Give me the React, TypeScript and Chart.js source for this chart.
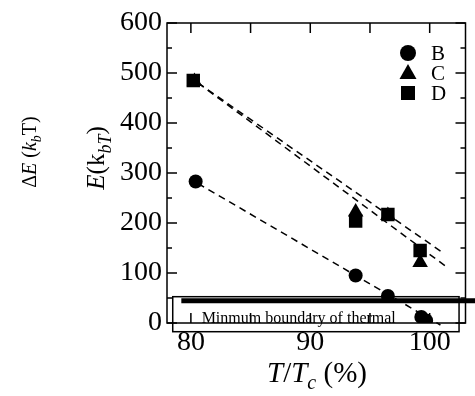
import React, { useEffect, useRef } from 'react';
import { Chart, registerables } from 'chart.js';

Chart.register(...registerables);

// ---------- data ----------
const seriesNames = ['B', 'C', 'D'];
const xB = [80.4, 93.8, 96.5, 99.3, 99.7];
const yB = [283, 95, 54, 12, 5];
const xC = [80.3, 93.8, 96.5, 99.2];
const yC = [483, 222, 215, 121];
const xD = [80.2, 93.8, 96.5, 99.2];
const yD = [485, 204, 217, 145];

const fitBX = [80.6, 100.9];
const fitBY = [279, -4];
const fitCX = [80.6, 101.6];
const fitCY = [480, 109];
const fitDX = [80.6, 101.2];
const fitDY = [480, 139];

const thresholdX = [79.2, 104];
const thresholdY = [44.5, 44.5];
const boxX = [78.48, 102.46];
const boxY = [-17.4, 52.6];
const boxLabel = 'Minmum boundary of thermal';
const boxLabelPos = [80.9, 0];

const xTickLabels = [80, 90, 100];
const xTickMarks = [80, 85, 90, 95, 100];
const yTickLabels = [0, 100, 200, 300, 400, 500, 600];
const yMinorTicks = [50, 150, 250, 350, 450, 550];

const FAM = "'Liberation Serif','Times New Roman',serif";

const toPts = (xs: number[], ys: number[]) => xs.map((x, i) => ({ x, y: ys[i] }));

type Run = { t: string; italic?: boolean; sub?: boolean };

function drawRuns(ctx: CanvasRenderingContext2D, runs: Run[], size: number, cx: number, cy: number, rotate: boolean) {
  const fontFor = (r: Run) => `${r.italic ? 'italic ' : ''}${r.sub ? Math.round(size * 0.7) : size}px ${FAM}`;
  const widths = runs.map((r) => {
    ctx.font = fontFor(r);
    return ctx.measureText(r.t).width;
  });
  const total = widths.reduce((a, b) => a + b, 0);
  ctx.save();
  ctx.translate(cx, cy);
  if (rotate) ctx.rotate(-Math.PI / 2);
  ctx.fillStyle = '#000';
  ctx.textBaseline = 'alphabetic';
  ctx.textAlign = 'left';
  let x = -total / 2;
  const base = size * 0.33;
  runs.forEach((r, i) => {
    ctx.font = fontFor(r);
    ctx.fillText(r.t, x, r.sub ? base + size * 0.25 : base);
    x += widths[i];
  });
  ctx.restore();
}

function drawMarker(ctx: CanvasRenderingContext2D, kind: string, x: number, y: number) {
  ctx.fillStyle = '#000';
  ctx.beginPath();
  if (kind === 'circle') {
    ctx.arc(x, y, 8, 0, Math.PI * 2);
  } else if (kind === 'triangle') {
    ctx.moveTo(x, y - 9);
    ctx.lineTo(x + 8.5, y + 6);
    ctx.lineTo(x - 8.5, y + 6);
    ctx.closePath();
  } else {
    ctx.rect(x - 7, y - 7, 14, 14);
  }
  ctx.fill();
}

const decorPlugin = {
  id: 'decor',
  beforeDatasetsDraw(chart: any) {
    const { ctx, chartArea: a, scales } = chart;
    const xs = scales.x;
    const ys = scales.y;
    ctx.save();
    // boundary box
    const bx0 = xs.getPixelForValue(boxX[0]);
    const bx1 = xs.getPixelForValue(boxX[1]);
    const by0 = ys.getPixelForValue(boxY[1]);
    const by1 = ys.getPixelForValue(boxY[0]);
    ctx.strokeStyle = '#000';
    ctx.lineWidth = 1.5;
    ctx.strokeRect(bx0, by0, bx1 - bx0, by1 - by0);
    ctx.fillStyle = '#000';
    ctx.font = `16px ${FAM}`;
    ctx.textBaseline = 'alphabetic';
    ctx.textAlign = 'left';
    ctx.fillText(boxLabel, xs.getPixelForValue(boxLabelPos[0]), ys.getPixelForValue(boxLabelPos[1]));

    // frame
    ctx.lineWidth = 1.5;
    ctx.strokeRect(a.left, a.top, a.right - a.left, a.bottom - a.top);
    // ticks
    ctx.beginPath();
    yTickLabels.forEach((v) => {
      const p = ys.getPixelForValue(v);
      ctx.moveTo(a.left, p); ctx.lineTo(a.left + 10, p);
      ctx.moveTo(a.right, p); ctx.lineTo(a.right - 10, p);
    });
    yMinorTicks.forEach((v) => {
      const p = ys.getPixelForValue(v);
      ctx.moveTo(a.left, p); ctx.lineTo(a.left + 5, p);
      ctx.moveTo(a.right, p); ctx.lineTo(a.right - 5, p);
    });
    xTickMarks.forEach((v) => {
      const p = xs.getPixelForValue(v);
      ctx.moveTo(p, a.bottom); ctx.lineTo(p, a.bottom - 10);
      ctx.moveTo(p, a.top); ctx.lineTo(p, a.top + 10);
    });
    ctx.stroke();
    ctx.restore();
  },
  afterDraw(chart: any) {
    const { ctx } = chart;
    ctx.save();
    // legend
    const kinds = ['circle', 'triangle', 'rect'];
    seriesNames.forEach((n, i) => {
      const y = 53 + i * 20;
      drawMarker(ctx, kinds[i], 408, y);
      ctx.fillStyle = '#000';
      ctx.font = `21px ${FAM}`;
      ctx.textBaseline = 'middle';
      ctx.textAlign = 'left';
      ctx.fillText(n, 431, y + 1);
    });
    // axis titles
    drawRuns(ctx, [
      { t: 'T', italic: true }, { t: '/' }, { t: 'T', italic: true }, { t: 'c', italic: true, sub: true }, { t: ' (%)' },
    ], 29, 317, 372, false);
    drawRuns(ctx, [
      { t: 'Δ' }, { t: 'E', italic: true }, { t: ' (' }, { t: 'k', italic: true }, { t: 'b', italic: true, sub: true }, { t: 'T)' },
    ], 20, 29, 152, true);
    drawRuns(ctx, [
      { t: 'E', italic: true }, { t: '(k' }, { t: 'bT', italic: true, sub: true }, { t: ')' },
    ], 25, 96, 158, true);
    ctx.restore();
  },
};

export default function App() {
  const ref = useRef<HTMLCanvasElement | null>(null);
  useEffect(() => {
    if (!ref.current) return;
    const pointDs = (label: string, xs: number[], ys: number[], style: string, r: number) => ({
      label,
      data: toPts(xs, ys),
      showLine: false,
      pointStyle: style,
      pointRadius: r,
      pointBackgroundColor: '#000',
      pointBorderColor: '#000',
      pointBorderWidth: 0,
    });
    const lineDs = (label: string, xs: number[], ys: number[], w: number, dash: number[]) => ({
      label,
      data: toPts(xs, ys),
      showLine: true,
      pointRadius: 0,
      borderColor: '#000',
      borderWidth: w,
      borderDash: dash,
      clip: false as any,
    });
    const chart = new Chart(ref.current, {
      type: 'scatter',
      data: {
        datasets: [
          lineDs('fitB', fitBX, fitBY, 1.5, [7, 5]),
          lineDs('fitC', fitCX, fitCY, 1.5, [7, 5]),
          lineDs('fitD', fitDX, fitDY, 1.5, [7, 5]),
          lineDs('threshold', thresholdX, thresholdY, 5, []),
          pointDs(seriesNames[0], xB, yB, 'circle', 7),
          pointDs(seriesNames[1], xC, yC, 'triangle', 9),
          pointDs(seriesNames[2], xD, yD, 'rect', 9.5),
        ] as any,
      },
      options: {
        animation: false,
        responsive: true,
        maintainAspectRatio: false,
        events: [],
        layout: { padding: { left: 0, top: 23, right: 8, bottom: 0 } },
        plugins: { legend: { display: false }, tooltip: { enabled: false } },
        scales: {
          x: {
            type: 'linear',
            min: 78,
            max: 103,
            grid: { display: false, drawTicks: false },
            border: { display: false },
            afterBuildTicks: (s: any) => { s.ticks = xTickLabels.map((v) => ({ value: v })); },
            afterFit: (s: any) => { s.height = 73; },
            ticks: { color: '#000', font: { family: FAM, size: 28 }, padding: 3, maxRotation: 0, autoSkip: false },
          },
          y: {
            type: 'linear',
            min: 0,
            max: 600,
            grid: { display: false, drawTicks: false },
            border: { display: false },
            afterBuildTicks: (s: any) => { s.ticks = yTickLabels.map((v) => ({ value: v })); },
            afterFit: (s: any) => { s.width = 167; },
            ticks: { color: '#000', font: { family: FAM, size: 28 }, padding: 5, autoSkip: false },
          },
        },
      },
      plugins: [decorPlugin],
    });
    return () => chart.destroy();
  }, []);
  return (
    <div style={{ position: 'absolute', left: 0, top: 0, width: 475, height: 396, background: '#fff' }}>
      <canvas ref={ref} />
    </div>
  );
}
